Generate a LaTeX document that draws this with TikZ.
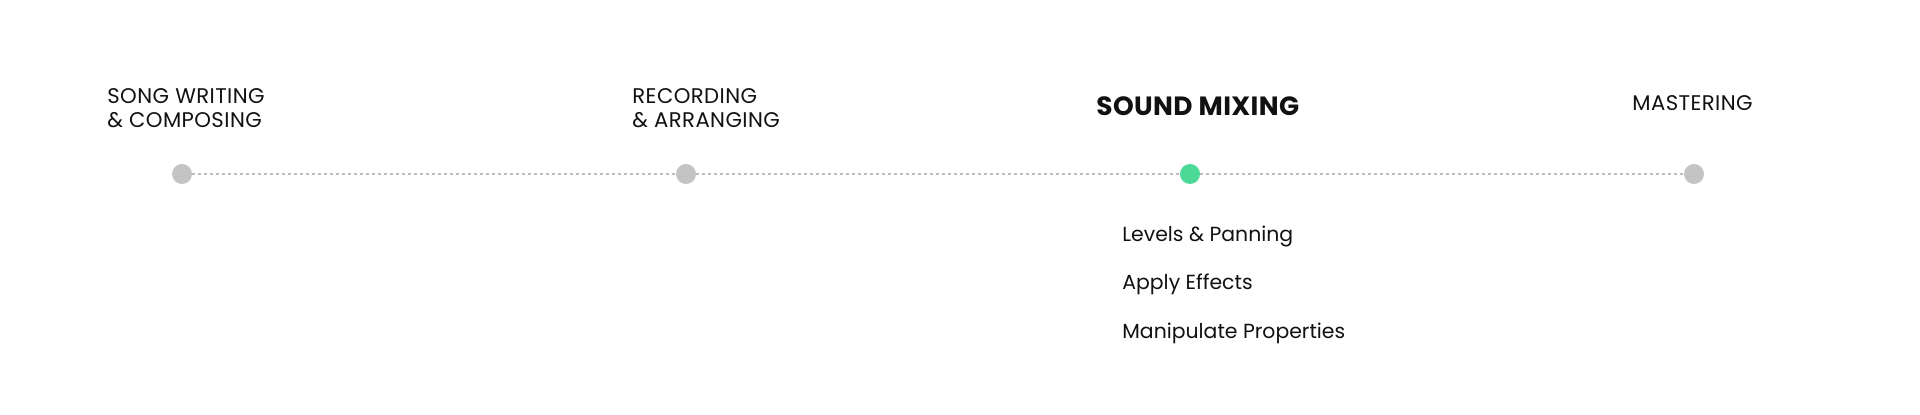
\documentclass[tikz,border=0pt]{standalone}
\usepackage{fontspec}
\setmainfont{Poppins}
\usepackage{xcolor}
\usetikzlibrary{positioning}
\definecolor{dotgrey}{HTML}{C4C4C4}
\definecolor{linegrey}{HTML}{BDBDBD}
\definecolor{mixgreen}{HTML}{4CD995}
\definecolor{ink}{HTML}{111111}
\tikzset{
    tnode/.style = {inner sep=0pt, text=ink},
    stage/.style = {tnode, align=left, anchor=base west, font=\fontsize{10.6}{12.3}\selectfont\addfontfeatures{LetterSpace=2}},
    current/.style = {tnode, anchor=base west, font=\fontsize{13.2}{15}\selectfont\bfseries\addfontfeatures{LetterSpace=1.5}},
    item/.style = {tnode, anchor=base west, font=\fontsize{10.2}{12.5}\selectfont},
    dot/.style = {circle, inner sep=0pt, minimum size=10pt, fill=dotgrey},
    dot_on/.style = {dot, fill=mixgreen},
    track/.style = {linegrey, line width=0.6pt, dash pattern=on 1.5pt off 1.5pt}
}

\begin{document}
\begin{tikzpicture}[x=0.5pt, y=-0.5pt]
    \useasboundingbox (0,0) rectangle (1920,415);

    % timeline
    \node [dot]    (song)   at (182,174)  {};
    \node [dot]    (rec)    at (686,174)  {};
    \node [dot_on] (mix)    at (1190,174) {};
    \node [dot]    (master) at (1694,174) {};
    \draw [track] (song) -- (rec);
    \draw [track] (rec) -- (mix);
    \draw [track] (mix) -- (master);

    % stage names (base = last line)
    \node [stage]   (song_lbl)   at (107,128)  {SONG WRITING\\\& COMPOSING};
    \node [stage]   (rec_lbl)    at (632,128)  {RECORDING\\\& ARRANGING};
    \node [current] (mix_lbl)    at (1096,116) {SOUND MIXING};
    \node [stage]   (master_lbl) at (1632,111) {MASTERING};

    % steps of the current stage
    \node [item] (levels)  at (1122,242) {Levels \& Panning};
    \node [item] (effects) at (1122,290) {Apply Effects};
    \node [item] (props)   at (1122,339) {Manipulate Properties};
\end{tikzpicture}
\end{document}
